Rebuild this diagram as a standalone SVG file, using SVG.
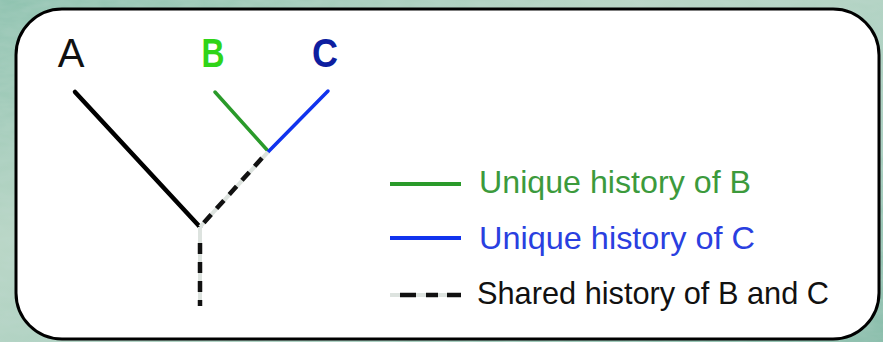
<svg xmlns="http://www.w3.org/2000/svg" width="883" height="342" viewBox="0 0 883 342">
<defs>
<linearGradient id="bg" x1="0" y1="0" x2="1" y2="1">
<stop offset="0" stop-color="#8fc3b0"/>
<stop offset="0.35" stop-color="#b9d6c6"/>
<stop offset="0.7" stop-color="#a9cfc0"/>
<stop offset="1" stop-color="#86bca9"/>
</linearGradient>
<filter id="tex" x="0" y="0" width="100%" height="100%">
<feTurbulence type="fractalNoise" baseFrequency="0.04 0.12" numOctaves="3" seed="4" result="n"/>
<feColorMatrix in="n" type="matrix" values="0 0 0 0 0.55  0 0 0 0 0.72  0 0 0 0 0.66  0 0 0 0.6 -0.1" result="c"/>
<feComposite in="c" in2="SourceGraphic" operator="over"/>
</filter>
<style>
.lbl{font-family:"Liberation Sans",Arial,sans-serif;font-size:40px;text-anchor:middle}
.leg{font-family:"Liberation Sans",Arial,sans-serif;font-size:32px}
.solid{fill:none;stroke-linecap:round}
.dashbg{stroke:#dde3df;stroke-width:4;fill:none}
.dash{stroke:#111;stroke-width:4.5;fill:none;stroke-dasharray:11 8}
</style>
</defs>
<rect x="0" y="0" width="883" height="342" fill="url(#bg)"/>
<rect x="0" y="0" width="883" height="342" fill="url(#bg)" filter="url(#tex)" opacity="0.6"/>
<rect id="frame" x="16" y="9" width="863" height="330" rx="46" ry="46" fill="#ffffff" stroke="#000" stroke-width="3"/>

<g id="label-A"><text class="lbl" x="71" y="67" fill="#111">A</text></g>
<g id="label-B"><text class="lbl" x="213" y="67" fill="#2fd418" font-weight="bold" textLength="23" lengthAdjust="spacingAndGlyphs">B</text></g>
<g id="label-C"><text class="lbl" x="325" y="67" fill="#0d1ea0" font-weight="bold" textLength="26" lengthAdjust="spacingAndGlyphs">C</text></g>

<g id="connectors">
<line class="solid" x1="75" y1="92" x2="200" y2="227" stroke="#000" stroke-width="4.5"/>
<line class="solid" x1="215" y1="92" x2="268" y2="151" stroke="#2a9a2a" stroke-width="3.5"/>
<line class="solid" x1="328" y1="91" x2="268" y2="152" stroke="#1133ee" stroke-width="3.5"/>
<line class="dashbg" x1="268" y1="152" x2="200" y2="227"/>
<line class="dash" x1="262" y1="158" x2="200" y2="227" stroke-dashoffset="0"/>
<line class="dashbg" x1="200" y1="227" x2="200" y2="306"/>
<line class="dash" x1="200" y1="243" x2="200" y2="306" stroke-dasharray="17 8"/>
</g>

<g id="legend-B">
<line x1="390" y1="184" x2="461" y2="184" stroke="#2a9a2a" stroke-width="4"/>
<text class="leg" x="479" y="193" fill="#3c9a3c" textLength="272" lengthAdjust="spacingAndGlyphs">Unique history of B</text>
</g>
<g id="legend-C">
<line x1="390" y1="238" x2="461" y2="238" stroke="#1133ee" stroke-width="4"/>
<text class="leg" x="479" y="249" fill="#2a3fe0" textLength="276" lengthAdjust="spacingAndGlyphs">Unique history of C</text>
</g>
<g id="legend-shared">
<line x1="390" y1="295" x2="461" y2="295" stroke="#dde3df" stroke-width="4"/>
<line x1="400" y1="295" x2="461" y2="295" stroke="#111" stroke-width="4.5" stroke-dasharray="16 10 12 9 14"/>
<text class="leg" x="477" y="304" fill="#111" font-size="30" textLength="352" lengthAdjust="spacingAndGlyphs">Shared history of B and C</text>
</g>
</svg>
